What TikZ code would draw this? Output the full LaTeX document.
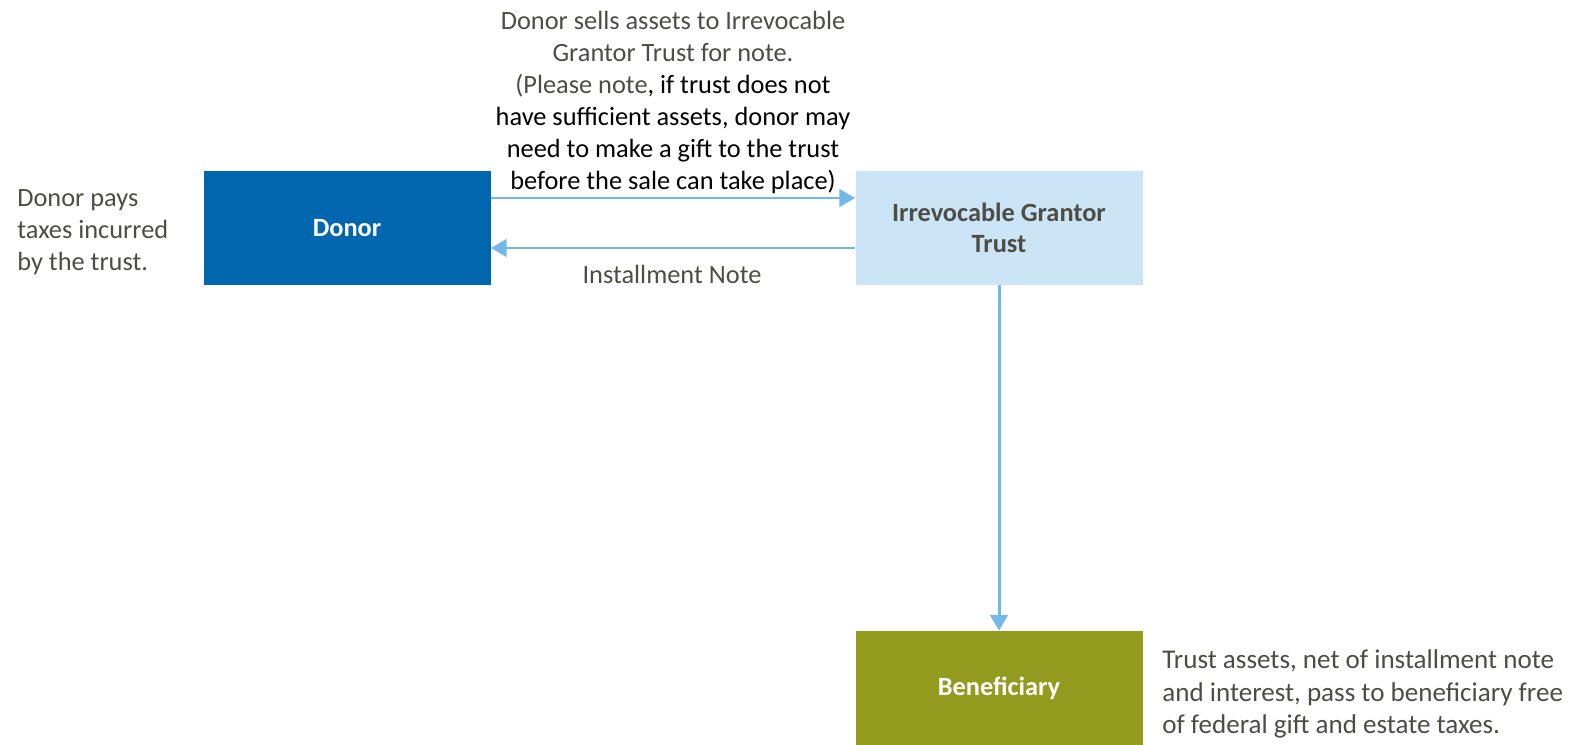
\documentclass[tikz,border=0pt]{standalone}
\usepackage{fontspec}
\setmainfont{Carlito}
\usepackage{xcolor}
\usetikzlibrary{arrows.meta}

\definecolor{donorblue}{HTML}{0066AD}
\definecolor{trustblue}{HTML}{CCE5F6}
\definecolor{beneolive}{HTML}{929B1E}
\definecolor{flowblue}{HTML}{72B8E8}
\definecolor{notegray}{HTML}{4D4D45}

\begin{document}
\begin{tikzpicture}
        % ================= styles =================
        \tikzset{
            % boxes
            box/.style={rectangle, minimum width=5.74cm, minimum height=2.28cm, align=center, inner sep=2pt, font=\fontsize{15}{18}\selectfont\bfseries},
            % side notes
            note/.style={text=notegray, font=\fontsize{15}{18.2}\selectfont, inner sep=0pt},
            % flow arrows
            flow/.style={draw=flowblue, line width=1.7pt, -{Triangle[length=9pt, width=10pt]}}
        }

        % canvas
        \useasboundingbox (0,0) rectangle (31.52,-14.9);

        % ================= boxes =================
        \node[box, fill=donorblue, text=white] (donor) at (6.94,-4.56) {Donor};
        \node[box, fill=trustblue, text=notegray] (trust) at (19.98,-4.56) {Irrevocable Grantor\\Trust};
        \node[box, fill=beneolive, text=white] (bene) at (19.98,-13.76) {Beneficiary};

        % ================= arrows =================
        \draw[flow] ([yshift=0.6cm]donor.east) -- ([yshift=0.6cm]trust.west);
        \draw[flow] ([yshift=-0.4cm]trust.west) -- ([yshift=-0.4cm]donor.east);
        \draw[flow] (trust) -- (bene);

        % ================= texts =================
        \node[note, align=center] (sale) at (13.46,-2.05) {Donor sells assets to Irrevocable\\Grantor Trust for note.\\(Please note\textcolor{black}{, if trust does not}\\\textcolor{black}{have sufficient assets, donor may}\\\textcolor{black}{need to make a gift to the trust}\\\textcolor{black}{before the sale can take place)}};
        \node[note] (inote) at (13.44,-5.48) {Installment Note};
        \node[note, align=left, anchor=west] (taxes) at (0.34,-4.64) {Donor pays\\taxes incurred\\by the trust.};
        \node[note, align=left, anchor=west, font=\fontsize{15.4}{18.6}\selectfont] (free) at (23.24,-13.88) {Trust assets, net of installment note\\and interest, pass to beneficiary free\\of federal gift and estate taxes.};

\end{tikzpicture}
\end{document}
